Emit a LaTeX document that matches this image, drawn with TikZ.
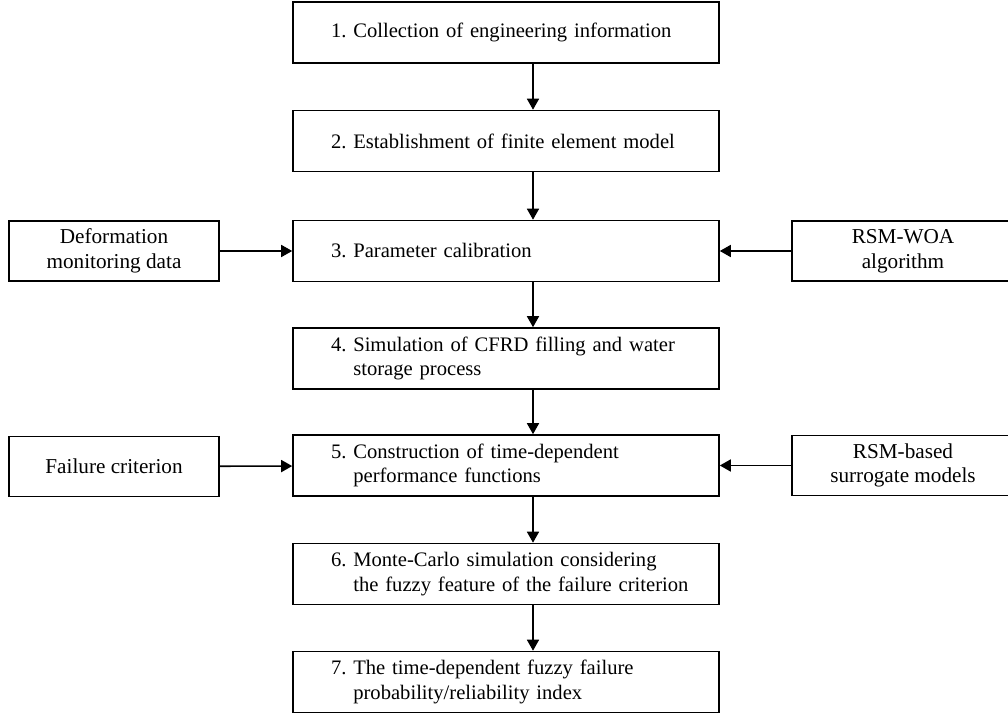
\documentclass[tikz,border=0pt]{standalone}
\usepackage{fontspec}
\setmainfont{Liberation Serif}
\usepackage{tikz}
\usetikzlibrary{arrows.meta}

\newcommand{\twoline}[3]{\begin{tabular}{@{}l@{ }l@{}}#1 & #2\\ & #3\end{tabular}}

\begin{document}
\frenchspacing
\begin{tikzpicture}[x=0.5pt, y=-0.5pt, line width=0.8pt,
    >={Triangle[length=5.5pt, width=6pt]},
    every node/.style={font=\fontsize{10.6}{12.4}\selectfont},
    stepbox/.style={draw, rectangle, text width=175pt, align=left, inner xsep=19pt, inner ysep=0pt, minimum height=30.5pt, font=\fontsize{10.3}{12.2}\selectfont},
    sidebox/.style={draw, rectangle, align=center, inner sep=0pt, minimum height=30pt}]
    \useasboundingbox (0,0) rectangle (1008,716);
    \node[stepbox] (S1) at (506,32.5) {\mbox{1. Collection of engineering information}};
    \node[stepbox] (S2) at (506,141) {\mbox{2. Establishment of finite element model}};
    \node[stepbox] (S3) at (506,251) {\mbox{3. Parameter calibration}};
    \node[stepbox] (S4) at (506,358.5) {\twoline{4.}{Simulation of CFRD filling and water}{storage process}};
    \node[stepbox] (S5) at (506,465.5) {\twoline{5.}{Construction of time-dependent}{performance functions}};
    \node[stepbox] (S6) at (506,574) {\twoline{6.}{Monte-Carlo simulation considering}{the fuzzy feature of the failure criterion}};
    \node[stepbox] (S7) at (506,682) {\twoline{7.}{The time-dependent fuzzy failure}{probability/reliability index}};
    \node[sidebox, minimum width=105pt] (L3) at (114,251) {Deformation\\monitoring data};
    \node[sidebox, minimum width=105pt] (L5) at (114,466.5) {Failure criterion};
    \node[sidebox, minimum width=111pt] (R3) at (903,251) {RSM-WOA\\algorithm};
    \node[sidebox, minimum width=111pt] (R5) at (903,465.5) {RSM-based\\surrogate models};
    \coordinate (axis) at (533,0);
    % main flow
    \foreach \a/\b in {S1/S2, S2/S3, S3/S4, S4/S5, S5/S6, S6/S7}
      \draw[->] (\a.south -| axis) -- (\b.north -| axis);
    % inputs
    \draw[->] (L3) -- (S3);
    \draw[->] (R3) -- (S3);
    \draw[->] (L5) -- (S5);
    \draw[->] (R5) -- (S5);
\end{tikzpicture}
\end{document}
